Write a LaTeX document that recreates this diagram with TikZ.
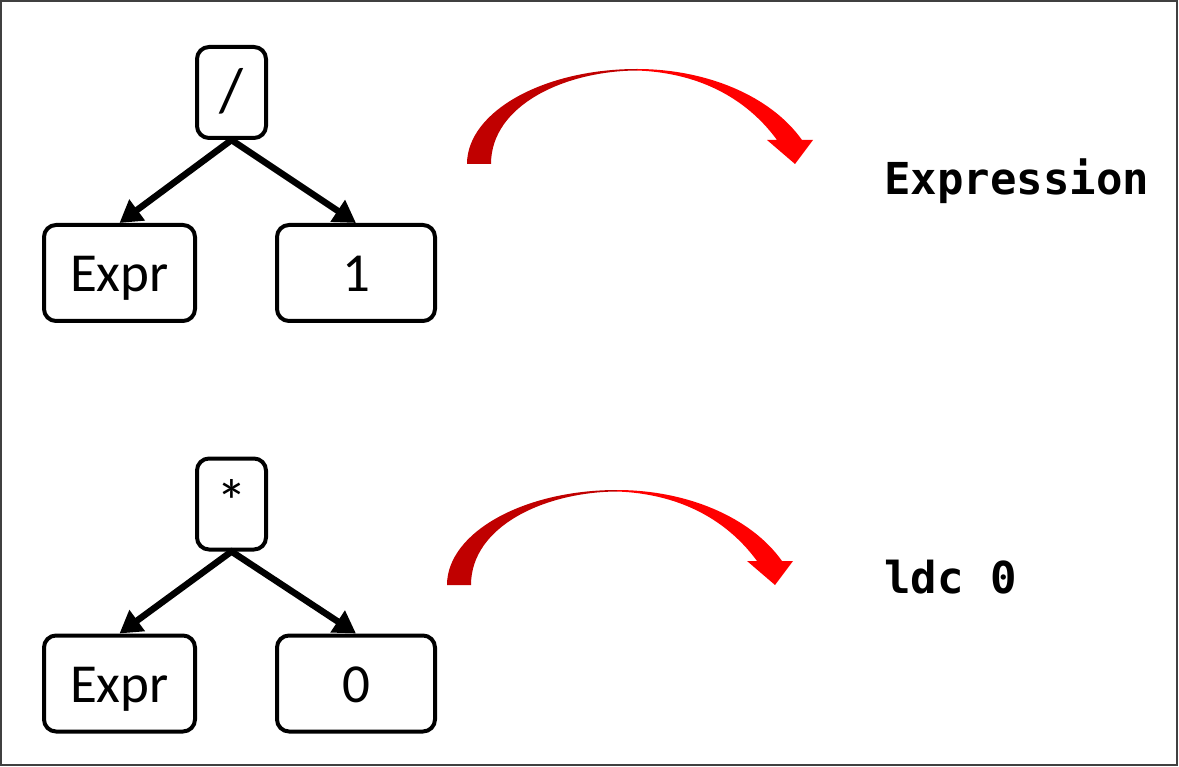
\documentclass[tikz,border=0pt]{standalone}
\usepackage{fontspec}
\setmainfont{Carlito}
\newfontfamily\codefont{DejaVu Sans Mono}
\usetikzlibrary{arrows.meta}
\definecolor{arcdark}{HTML}{C00000}
\definecolor{arclight}{HTML}{FF0000}
\definecolor{framegray}{HTML}{404040}
\newcommand\rarrowpath{(467,164) .. controls (467,112) and (543,69) .. (637,69) .. controls (705,69) and (770,95) .. (802,140) -- (813,140) -- (795,164) -- (767,140) -- (777,140) .. controls (750,103) and (705,73) .. (637,70.5) .. controls (565,71) and (491,105) .. (491,164) -- cycle}
\tikzset{
  treebox/.style={draw=black, line width=4pt, rounded corners=12pt, fill=white,
    inner sep=0pt, text height=38pt, text depth=0pt,
    font=\fontsize{55}{62}\selectfont},
  opbox/.style={treebox, minimum width=69pt, minimum height=91pt,
    font=\fontsize{62}{70}\selectfont},
  leftbox/.style={treebox, minimum width=151pt, minimum height=96pt},
  rightbox/.style={treebox, minimum width=158pt, minimum height=96pt},
  conn/.style={draw=black, line width=6.5pt, -{Triangle[length=22pt,width=25pt]}, shorten <=-2pt},
  codetext/.style={anchor=base west, inner sep=0pt, font=\codefont\bfseries\fontsize{44}{50}\selectfont},
  redarc/.pic={
    \begin{scope}
      \clip (400,0) rectangle (637,300);
      \fill[arcdark] \rarrowpath;
    \end{scope}
    \begin{scope}
      \clip (637,0) rectangle (900,300);
      \fill[arclight] \rarrowpath;
    \end{scope}
  }
}
\begin{document}
\begin{tikzpicture}[x=1pt,y=-1pt]
\useasboundingbox (0,0) rectangle (1179,767);
\draw[framegray, line width=2pt] (1,1) rectangle (1177,765);
% top tree
\node[opbox] (op1) at (231.5,92.5) {/};
\node[leftbox] (l1) at (119.5,273) {Expr};
\node[rightbox] (r1) at (356,273) {1};
\draw[conn] (op1.south) -- (l1.north);
\draw[conn] (op1.south) -- (r1.north);
% bottom tree
\node[opbox] (op2) at (231.5,504) {*};
\node[leftbox] (l2) at (119.5,683.5) {Expr};
\node[rightbox] (r2) at (356,683.5) {0};
\draw[conn] (op2.south) -- (l2.north);
\draw[conn] (op2.south) -- (r2.north);
% red arrows
\pic at (0,0) {redarc};
\pic at (-20,421) {redarc};
% results
\node[codetext] (res1) at (884,195) {Expression};
\node[codetext] (res2) at (884,593) {ldc 0};
\end{tikzpicture}
\end{document}
